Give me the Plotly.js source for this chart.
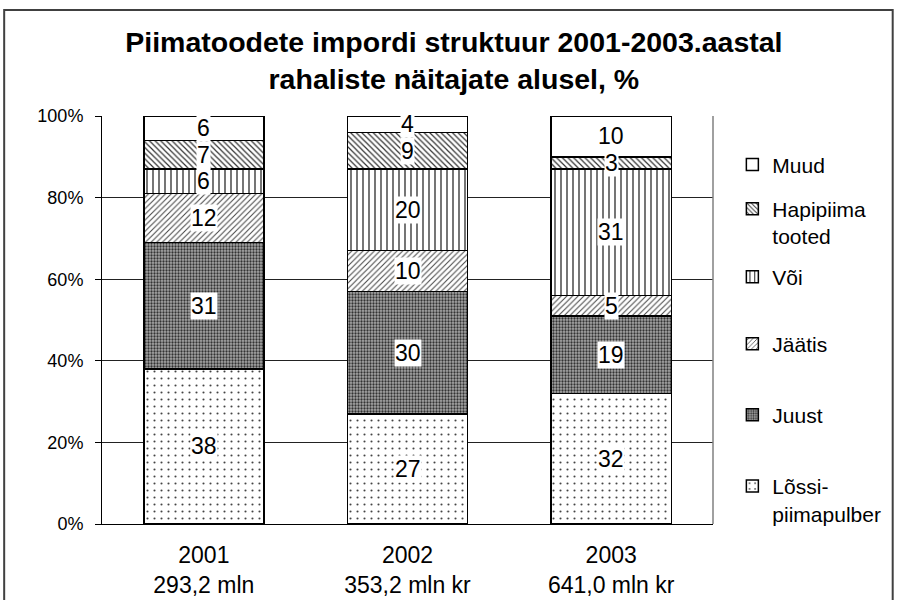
<!DOCTYPE html>
<html>
<head>
<meta charset="utf-8">
<script src="https://cdn.plot.ly/plotly-3.0.1.min.js"></script>
<style>html,body{margin:0;padding:0;background:#fff;}</style>
</head>
<body>
<div id="chart" style="width:897px;height:600px;"></div>
<script>
// ---- data ----
const categories = ["2001<br>293,2 mln", "2002<br>353,2 mln kr", "2003<br>641,0 mln kr"];
const seriesNames = ["Lõssi-<br>piimapulber", "Juust", "Jäätis", "Või", "Hapipiima<br>tooted", "Muud"];
const lossi   = [38, 27, 32];
const juust   = [31, 30, 19];
const jaatis  = [12, 10, 5];
const voi     = [6, 20, 31];
const hapi    = [7, 9, 3];
const muud    = [6, 4, 10];
const tickVals = [0, 20, 40, 60, 80, 100];
const tickText = ["0%", "20%", "40%", "60%", "80%", "100%"];

const seriesValues = [lossi, juust, jaatis, voi, hapi, muud];

// ---- styles ----
const FONT = "Liberation Sans, Arial, Helvetica, sans-serif";
const patterns = [
  {shape: ".", size: 7, solidity: 0.07, fgcolor: "#444444", bgcolor: "#ffffff", fillmode: "replace"},
  {shape: ".", size: 3, solidity: 0.45, fgcolor: "#333333", bgcolor: "#a8a8a8", fillmode: "replace"},
  {shape: "/", size: 4, solidity: 0.25, fgcolor: "#444444", bgcolor: "#ffffff", fillmode: "replace"},
  {shape: "|", size: 6, solidity: 0.18, fgcolor: "#000000", bgcolor: "#ffffff", fillmode: "replace"},
  {shape: "\\", size: 4, solidity: 0.3, fgcolor: "#333333", bgcolor: "#ffffff", fillmode: "replace"},
  {shape: "", size: 6, solidity: 0.1, fgcolor: "#ffffff", bgcolor: "#ffffff", fillmode: "replace"}
];
const legendIds = ["legend6", "legend5", "legend4", "legend3", "legend2", "legend"];
const legendY = [0.059, 0.267, 0.441, 0.605, 0.739, 0.880];

const traces = seriesValues.map((vals, i) => ({
  type: "bar",
  name: seriesNames[i],
  x: categories,
  y: vals,
  legend: legendIds[i],
  marker: {
    color: "#ffffff",
    pattern: patterns[i],
    line: {color: "#000000", width: 1.5}
  },
  hoverinfo: "skip"
}));

// value labels with white background, placed at the middle of each segment
const annotations = [];
categories.forEach((cat, ci) => {
  let base = 0;
  seriesValues.forEach((vals) => {
    const v = vals[ci];
    annotations.push({
      x: cat, y: base + v / 2, xref: "x", yref: "y",
      text: String(v), showarrow: false,
      font: {family: FONT, size: 23, color: "#000"},
      bgcolor: "#ffffff", borderpad: 0
    });
    base += v;
  });
});

const layout = {
  width: 897, height: 600,
  margin: {l: 102, r: 183, t: 116, b: 76},
  paper_bgcolor: "#ffffff", plot_bgcolor: "#ffffff",
  barmode: "stack",
  bargap: 0.41,
  font: {family: FONT, color: "#000"},
  title: {
    text: "<b>Piimatoodete impordi struktuur 2001-2003.aastal<br>rahaliste näitajate alusel, %</b>",
    font: {family: FONT, size: 28.5, color: "#000"},
    x: 0.506, xanchor: "center", xref: "container",
    y: 0.913, yanchor: "middle", yref: "container"
  },
  xaxis: {
    type: "category",
    showgrid: false,
    showline: true, linecolor: "#000", linewidth: 1,
    ticks: "",
    tickfont: {family: FONT, size: 23, color: "#000"},
    ticklabelstandoff: 10,
    fixedrange: true
  },
  yaxis: {
    range: [0, 100],
    tickvals: tickVals, ticktext: tickText,
    showgrid: true, gridcolor: "#222", gridwidth: 1,
    showline: true, linecolor: "#000", linewidth: 1,
    zeroline: false,
    ticks: "outside", ticklen: 6, tickcolor: "#000",
    tickfont: {family: FONT, size: 18, color: "#000"},
    ticklabelstandoff: 8,
    fixedrange: true
  },
  shapes: [
    {type: "line", xref: "paper", yref: "paper", x0: 1, x1: 1, y0: 0, y1: 1,
     line: {color: "#808080", width: 1.5}},
    {type: "rect", xref: "paper", yref: "paper",
     x0: -0.1601, x1: 1.2941, y0: -0.22, y1: 1.2598,
     line: {color: "#404040", width: 2}, fillcolor: "rgba(0,0,0,0)"}
  ],
  annotations: annotations,
  showlegend: true
};

legendIds.forEach((id, i) => {
  layout[id] = {
    x: 1.03, xanchor: "left",
    y: legendY[i], yanchor: "middle",
    valign: "top",
    bgcolor: "rgba(0,0,0,0)",
    font: {family: FONT, size: 21, color: "#000"},
    itemclick: false, itemdoubleclick: false
  };
});

Plotly.newPlot("chart", traces, layout, {displayModeBar: false, staticPlot: true});
</script>
</body>
</html>
